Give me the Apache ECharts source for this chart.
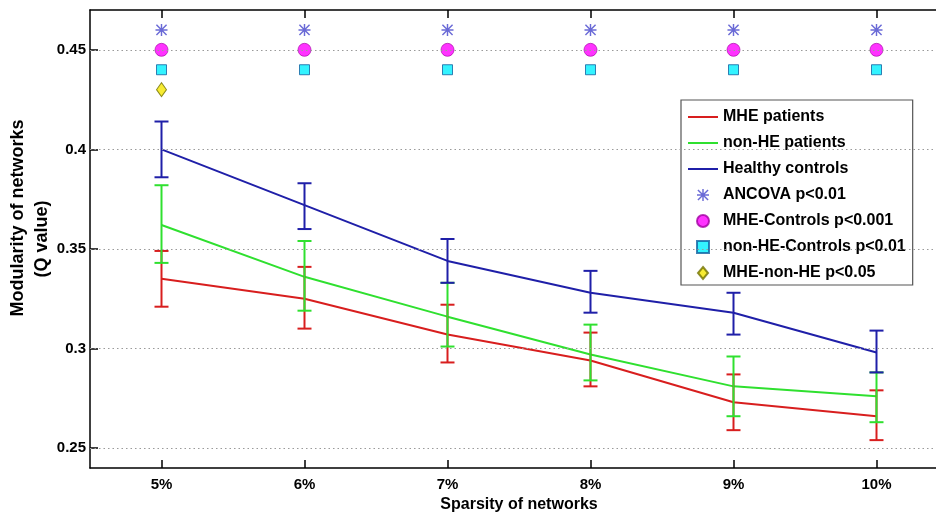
<!DOCTYPE html>
<html>
<head>
<meta charset="utf-8">
<script src="https://cdn.jsdelivr.net/npm/echarts@6/dist/echarts.min.js"></script>
<style>html,body{margin:0;padding:0;background:#fff}#c{width:936px;height:519px}</style>
</head>
<body>
<div id="c"></div>
<script>
// ---- data ----
const sparsity = [5, 6, 7, 8, 9, 10];
const xTickLabels = ['5%', '6%', '7%', '8%', '9%', '10%'];
const yTicks = [0.25, 0.3, 0.35, 0.4, 0.45];

const mheMean = [0.335, 0.325, 0.307, 0.294, 0.273, 0.266];
const mheLow  = [0.321, 0.310, 0.293, 0.281, 0.259, 0.254];
const mheHigh = [0.349, 0.341, 0.322, 0.308, 0.287, 0.279];

const nonheMean = [0.362, 0.336, 0.316, 0.297, 0.281, 0.276];
const nonheLow  = [0.343, 0.319, 0.301, 0.284, 0.266, 0.263];
const nonheHigh = [0.382, 0.354, 0.333, 0.312, 0.296, 0.288];

const hcMean = [0.400, 0.372, 0.344, 0.328, 0.318, 0.298];
const hcLow  = [0.386, 0.360, 0.333, 0.318, 0.307, 0.288];
const hcHigh = [0.414, 0.383, 0.355, 0.339, 0.328, 0.309];

const ancovaSig   = [5, 6, 7, 8, 9, 10];
const ancovaY     = [0.46, 0.46, 0.46, 0.46, 0.46, 0.46];
const mheCtrlSig  = [5, 6, 7, 8, 9, 10];
const mheCtrlY    = [0.45, 0.45, 0.45, 0.45, 0.45, 0.45];
const nonheCtrlSig = [5, 6, 7, 8, 9, 10];
const nonheCtrlY  = [0.44, 0.44, 0.44, 0.44, 0.44, 0.44];
const mheNonheSig = [5];
const mheNonheY   = [0.43];

// ---- helpers ----
const FONT = "'Liberation Sans', Arial, sans-serif";
const RED = '#d81e1e', GREEN = '#2fe02f', BLUE = '#1f1fa8';
const zip = (xs, ys) => xs.map((x, i) => [x, ys[i]]);
const errData = (lo, hi) => sparsity.map((x, i) => [x, lo[i], hi[i]]);
function errRender(color) {
  return function (params, api) {
    const x = api.value(0);
    const p1 = api.coord([x, api.value(1)]);
    const p2 = api.coord([x, api.value(2)]);
    const hw = 7;
    const st = { stroke: color, lineWidth: 2 };
    return {
      type: 'group',
      children: [
        { type: 'line', shape: { x1: p1[0], y1: p1[1], x2: p2[0], y2: p2[1] }, style: st },
        { type: 'line', shape: { x1: p1[0] - hw, y1: p1[1], x2: p1[0] + hw, y2: p1[1] }, style: st },
        { type: 'line', shape: { x1: p2[0] - hw, y1: p2[1], x2: p2[0] + hw, y2: p2[1] }, style: st }
      ]
    };
  };
}
const asterisk = 'path://M4.4,0H5.6V10H4.4Z M0,4.4H10V5.6H0Z M1.2,0.35L9.65,8.8L8.8,9.65L0.35,1.2Z M8.8,0.35L9.65,1.2L1.2,9.65L0.35,8.8Z';
const square = 'path://M0,0H10V10H0Z';
const diamond = 'path://M5,0L10,6L5,12L0,6Z';

const chart = echarts.init(document.getElementById('c'), null, { renderer: 'canvas' });
const lineLegend = name => ({ name, itemStyle: { opacity: 0 } });
const nameStyle = { fontFamily: FONT, fontWeight: 'bold', fontSize: 18, color: '#000', lineHeight: 24 };
const option = {
  animation: false,
  backgroundColor: '#fff',
  textStyle: { fontFamily: FONT },
  grid: { left: 90, right: -12, top: 10, bottom: 51, containLabel: false, outerBoundsMode: 'none' },
  xAxis: [{
    type: 'value', min: 4.5, max: 10.5,
    name: 'Sparsity of networks', nameLocation: 'middle', nameGap: 29, nameMoveOverlap: false,
    nameTextStyle: { fontFamily: FONT, fontWeight: 'bold', fontSize: 16, color: '#000' },
    axisLine: { show: true, onZero: false, lineStyle: { color: '#000', width: 1.5 } },
    axisTick: { show: true, inside: true, length: 8, lineStyle: { color: '#000', width: 1.5 }, customValues: sparsity },
    axisLabel: { show: true, margin: 9, fontFamily: FONT, fontWeight: 'bold', fontSize: 15, color: '#000',
      customValues: sparsity, formatter: v => xTickLabels[sparsity.indexOf(v)] },
    splitLine: { show: false }
  }, {
    type: 'value', min: 4.5, max: 10.5, position: 'top',
    axisLine: { show: true, onZero: false, lineStyle: { color: '#000', width: 1.5 } },
    axisTick: { show: true, inside: true, length: 8, lineStyle: { color: '#000', width: 1.5 }, customValues: sparsity },
    axisLabel: { show: false },
    splitLine: { show: false }
  }],
  yAxis: {
    type: 'value', min: 0.24, max: 0.47,
    name: '{a|Modularity of networks}\n{b|(Q value)}', nameLocation: 'middle', nameGap: 36, nameMoveOverlap: false,
    nameTextStyle: Object.assign({}, nameStyle, {
      rich: {
        a: Object.assign({}, nameStyle, { padding: [0, 0, 0, 42] }),
        b: Object.assign({}, nameStyle)
      }
    }),
    axisLine: { show: true, onZero: false, lineStyle: { color: '#000', width: 1.5 } },
    axisTick: { show: true, inside: true, length: 8, lineStyle: { color: '#000', width: 1.5 }, customValues: yTicks },
    axisLabel: { show: true, margin: 4, fontFamily: FONT, fontWeight: 'bold', fontSize: 15, color: '#000',
      customValues: yTicks, formatter: v => String(+v.toFixed(2)) },
    splitLine: { show: false }
  },
  legend: {
    orient: 'vertical', left: 681, top: 100,
    padding: [9, 7, 4, 6],
    itemWidth: 30, itemHeight: 12, itemGap: 10,
    backgroundColor: '#fff', borderColor: '#555', borderWidth: 1.2,
    textStyle: { fontFamily: FONT, fontWeight: 'bold', fontSize: 16, color: '#000', lineHeight: 16 },
    data: [lineLegend('MHE patients'), lineLegend('non-HE patients'), lineLegend('Healthy controls'),
      'ANCOVA p<0.01', 'MHE-Controls p<0.001', 'non-HE-Controls p<0.01', 'MHE-non-HE p<0.05']
  },
  series: [
    {
      name: 'grid', type: 'line', data: [], silent: true,
      markLine: {
        silent: true, symbol: ['none', 'none'], label: { show: false },
        lineStyle: { type: [1.5, 3], color: '#9a9a9a', width: 1.2 },
        data: yTicks.map(v => ({ yAxis: v }))
      }
    },
    { name: 'MHE patients', type: 'line', data: zip(sparsity, mheMean), symbol: 'none',
      lineStyle: { color: RED, width: 2 }, itemStyle: { color: RED }, z: 3 },
    { name: 'non-HE patients', type: 'line', data: zip(sparsity, nonheMean), symbol: 'none',
      lineStyle: { color: GREEN, width: 2 }, itemStyle: { color: GREEN }, z: 3 },
    { name: 'Healthy controls', type: 'line', data: zip(sparsity, hcMean), symbol: 'none',
      lineStyle: { color: BLUE, width: 2 }, itemStyle: { color: BLUE }, z: 3 },
    { name: 'MHE patients', type: 'custom', renderItem: errRender(RED), data: errData(mheLow, mheHigh), z: 4, silent: true },
    { name: 'non-HE patients', type: 'custom', renderItem: errRender(GREEN), data: errData(nonheLow, nonheHigh), z: 4, silent: true },
    { name: 'Healthy controls', type: 'custom', renderItem: errRender(BLUE), data: errData(hcLow, hcHigh), z: 4, silent: true },
    { name: 'ANCOVA p<0.01', type: 'scatter', data: zip(ancovaSig, ancovaY), symbol: asterisk, symbolSize: 12,
      itemStyle: { color: '#4545cc' } },
    { name: 'MHE-Controls p<0.001', type: 'scatter', data: zip(mheCtrlSig, mheCtrlY), symbol: 'circle', symbolSize: 13,
      itemStyle: { color: '#ff00ff', borderColor: '#a000a0', borderWidth: 0.8 } },
    { name: 'non-HE-Controls p<0.01', type: 'scatter', data: zip(nonheCtrlSig, nonheCtrlY), symbol: square, symbolSize: 10,
      symbolKeepAspect: true, itemStyle: { color: '#00f0ff', borderColor: '#1060a0', borderWidth: 1 } },
    { name: 'MHE-non-HE p<0.05', type: 'scatter', data: zip(mheNonheSig, mheNonheY), symbol: diamond, symbolSize: [12, 14],
      symbolKeepAspect: true, itemStyle: { color: '#f5e600', borderColor: '#707000', borderWidth: 1 } }
  ]
};
chart.setOption(option);
</script>
</body>
</html>
